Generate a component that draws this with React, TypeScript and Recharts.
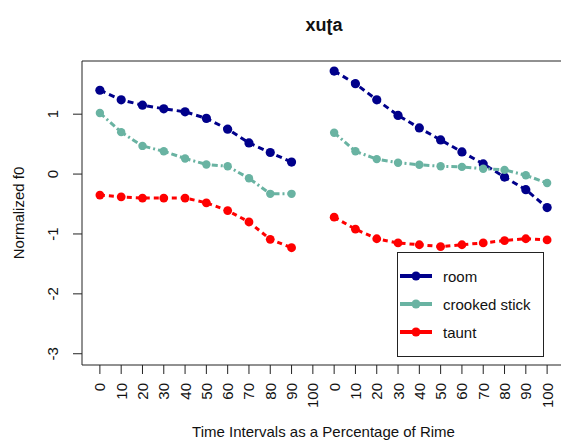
import React from 'react';
import { LineChart, Line, XAxis, YAxis, ReferenceArea, Legend } from 'recharts';

// Tick labels along the x axis: two rimes, each 0..100 % in steps of 10
const tickLabels = ['0', '10', '20', '30', '40', '50', '60', '70', '80', '90', '100',
  '0', '10', '20', '30', '40', '50', '60', '70', '80', '90', '100'];

// Normalized f0, first and second syllable
const room1 = [1.40, 1.24, 1.15, 1.09, 1.04, 0.93, 0.75, 0.52, 0.36, 0.20, null];
const room2 = [1.72, 1.51, 1.24, 0.98, 0.77, 0.57, 0.37, 0.17, -0.05, -0.26, -0.56];
const crooked1 = [1.02, 0.70, 0.47, 0.38, 0.26, 0.16, 0.13, -0.07, -0.33, -0.33, null];
const crooked2 = [0.69, 0.38, 0.25, 0.19, 0.155, 0.13, 0.12, 0.09, 0.07, -0.02, -0.15];
const taunt1 = [-0.35, -0.38, -0.40, -0.40, -0.40, -0.48, -0.61, -0.80, -1.09, -1.23, null];
const taunt2 = [-0.72, -0.92, -1.08, -1.15, -1.18, -1.21, -1.18, -1.15, -1.11, -1.08, -1.10];

const yTicks = [-3, -2, -1, 0, 1];

const room = [...room1, ...room2];
const crooked = [...crooked1, ...crooked2];
const taunt = [...taunt1, ...taunt2];

const data = tickLabels.map((label, i) => ({
  idx: i + 1,
  label,
  room: room[i],
  crooked: crooked[i],
  taunt: taunt[i],
}));

const series = [
  { key: 'room', name: 'room', color: '#00008B', dash: '6 4', r: 4.6 },
  { key: 'crooked', name: 'crooked stick', color: '#69B3A2', dash: '6 3 2 3', r: 4.2 },
  { key: 'taunt', name: 'taunt', color: '#FF0000', dash: '5 4', r: 4.4 },
];

const FONT = '"Liberation Sans", Arial, sans-serif';

// R-style 4% padding around the data range
const xDomain: [number, number] = [1 - 0.84, 22 + 0.84];
const yDomain: [number, number] = [-3 - 0.188, 1.7 + 0.188];

const XTick = (props: any) => {
  const { x, y, payload } = props;
  const ty = y + 9;
  return (
    <text x={x} y={ty} transform={`rotate(-90, ${x}, ${ty})`} textAnchor="end"
      dominantBaseline="central" fontSize={15} fontFamily={FONT} fill="#111">
      {tickLabels[payload.value - 1]}
    </text>
  );
};

const YTick = (props: any) => {
  const { x, y, payload } = props;
  const tx = x - 20;
  return (
    <text x={tx} y={y} transform={`rotate(-90, ${tx}, ${y})`} textAnchor="middle"
      dominantBaseline="central" fontSize={15} fontFamily={FONT} fill="#111">
      {payload.value}
    </text>
  );
};

const LegendBox = () => (
  <svg width={147} height={105} style={{ display: 'block' }}>
    <rect x={0.5} y={0.5} width={146} height={104} fill="#fff" stroke="#222" strokeWidth={1} />
    {series.map((s, i) => {
      const cy = 24 + i * 28;
      return (
        <g key={s.key}>
          <line x1={3} x2={35} y1={cy} y2={cy} stroke={s.color} strokeWidth={4} />
          <circle cx={19} cy={cy} r={4.5} fill={s.color} />
          <text x={46} y={cy} dominantBaseline="central" fontSize={15} fontFamily={FONT} fill="#111">
            {s.name}
          </text>
        </g>
      );
    })}
  </svg>
);

export default function App() {
  return (
    <div style={{ position: 'absolute', left: 0, top: 0, width: 561, height: 442, overflow: 'hidden', background: '#fff' }}>
      <LineChart width={570} height={442} data={data}
        margin={{ top: 61, right: 5, left: 0, bottom: 0 }}>
        <text x={324} y={31} textAnchor="middle" fontSize={18} fontWeight="bold" fontFamily={FONT} fill="#111">
          xuʈa
        </text>
        <XAxis dataKey="idx" type="number" domain={xDomain} ticks={data.map(d => d.idx)}
          allowDataOverflow interval={0} height={77} axisLine={false}
          tickLine={{ stroke: '#222' }} tickSize={9} tickMargin={0} tick={<XTick />}
          label={{
            content: (p: any) => {
              const vb = p.viewBox;
              return (
                <text x={vb.x + vb.width / 2} y={437} textAnchor="middle" fontSize={15}
                  fontFamily={FONT} fill="#111">
                  Time Intervals as a Percentage of Rime
                </text>
              );
            },
          }} />
        <YAxis type="number" domain={yDomain} ticks={yTicks} allowDataOverflow width={82}
          axisLine={false} tickLine={{ stroke: '#222' }} tickSize={9} tickMargin={0} tick={<YTick />}
          label={{
            content: (p: any) => {
              const vb = p.viewBox;
              const cy = vb.y + vb.height / 2;
              return (
                <text x={18} y={cy} transform={`rotate(-90, 18, ${cy})`} textAnchor="middle"
                  dominantBaseline="central" fontSize={15} fontFamily={FONT} fill="#111">
                  Normalized f0
                </text>
              );
            },
          }} />
        <ReferenceArea x1={xDomain[0]} x2={xDomain[1]} y1={yDomain[0]} y2={yDomain[1]}
          fill="none" stroke="#222" strokeWidth={1} ifOverflow="visible" />
        {series.map(s => (
          <Line key={s.key} dataKey={s.key} name={s.name} type="linear" stroke={s.color}
            strokeWidth={3} strokeDasharray={s.dash} isAnimationActive={false}
            dot={{ r: s.r, fill: s.color, stroke: 'none', strokeWidth: 0, strokeDasharray: '' }}
            activeDot={false} />
        ))}
        <Legend layout="horizontal" verticalAlign="middle" align="center" content={<LegendBox />}
          wrapperStyle={{ position: 'absolute', left: 397, top: 252, width: 147, height: 105 }} />
      </LineChart>
    </div>
  );
}
